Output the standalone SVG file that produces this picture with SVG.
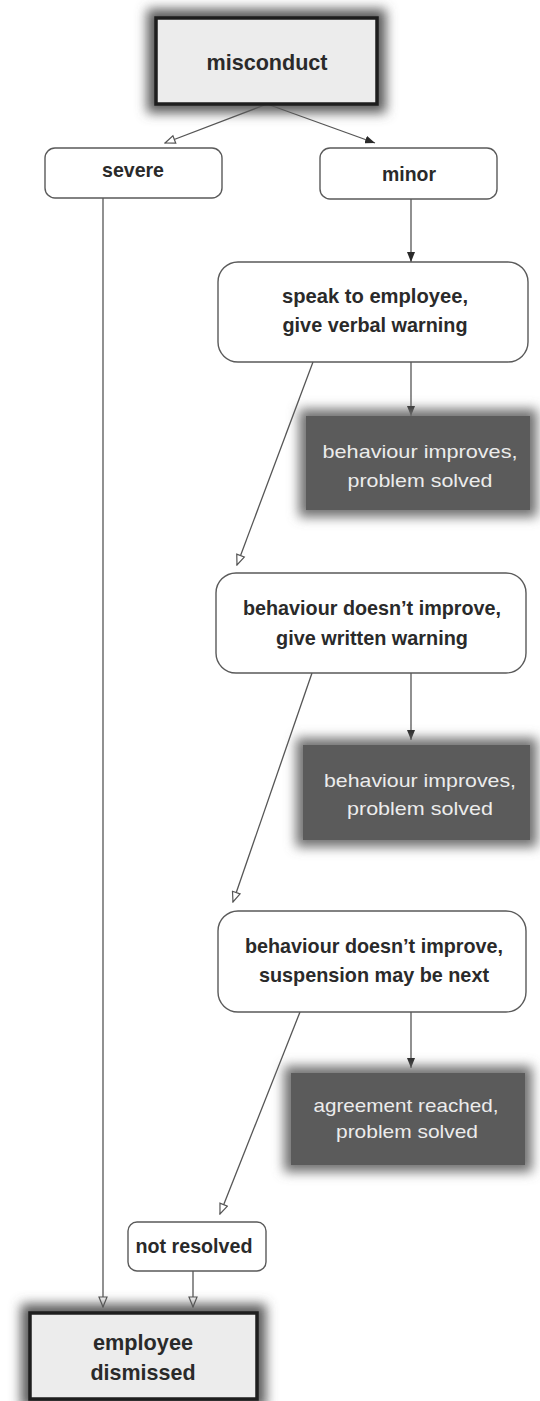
<svg xmlns="http://www.w3.org/2000/svg" width="540" height="1401" viewBox="0 0 540 1401">
<style>
.bg{fill:#ffffff}
.thick{fill:#ececec;stroke:#1e1e1e;stroke-width:3.5}
.halo{fill:#5a5a5a}
.rnd{fill:#ffffff;stroke:#5a5a5a;stroke-width:1.4}
.dk{fill:#5b5b5b}
.dksh{fill:#707070}
.tb{font-family:"Liberation Sans",Arial,sans-serif;font-weight:bold;font-size:21px;fill:#2a2a2a;text-anchor:middle}
.tbig{font-size:22px}
.tw{font-family:"Liberation Sans",Arial,sans-serif;font-size:19px;fill:#ececec;text-anchor:middle}
.ln{fill:none;stroke:#555555;stroke-width:1.3}
</style>
<defs>
<filter id="blur6" x="-25%" y="-40%" width="150%" height="180%">
<feGaussianBlur stdDeviation="6"/>
</filter>
<filter id="soft" x="-20%" y="-30%" width="140%" height="160%">
<feGaussianBlur stdDeviation="6"/>
</filter>
<marker id="af" viewBox="0 0 10 8" refX="10" refY="4" markerWidth="10" markerHeight="8" markerUnits="userSpaceOnUse" orient="auto">
<path d="M0,0 L10,4 L0,8 z" fill="#2a2a2a"/>
</marker>
<marker id="ah" viewBox="-1 -1 12 10" refX="10" refY="4" markerWidth="12" markerHeight="10" markerUnits="userSpaceOnUse" orient="auto">
<path d="M0,0 L10,4 L0,8 z" fill="#ffffff" stroke="#555555" stroke-width="1.2"/>
</marker>
</defs>
<rect class="bg" x="0" y="0" width="540" height="1401"/>

<g id="connectors">
<path class="ln" d="M267,104 L165,143" marker-end="url(#ah)"/>
<path class="ln" d="M267,104 L375,143" marker-end="url(#af)"/>
<path class="ln" d="M411,199 L411,262" marker-end="url(#af)"/>
<path class="ln" d="M411,362 L411,416" marker-end="url(#af)"/>
<path class="ln" d="M313,362 L237,565" marker-end="url(#ah)"/>
<path class="ln" d="M411,673 L411,740" marker-end="url(#af)"/>
<path class="ln" d="M312,673 L233,902" marker-end="url(#ah)"/>
<path class="ln" d="M411,1012 L411,1068" marker-end="url(#af)"/>
<path class="ln" d="M300,1012 L220,1214" marker-end="url(#ah)"/>
<path class="ln" d="M103,198 L103,1307" marker-end="url(#ah)"/>
<path class="ln" d="M193,1271 L193,1307" marker-end="url(#ah)"/>
</g>

<g id="misconduct">
<rect class="halo" x="147" y="9" width="239" height="104" filter="url(#blur6)"/>
<rect class="thick" x="156" y="18" width="221" height="86"/>
<text class="tb tbig" x="267" y="70" textLength="121" lengthAdjust="spacingAndGlyphs">misconduct</text>
</g>

<g id="severe">
<rect class="rnd" x="45" y="148" width="177" height="50" rx="10"/>
<text class="tb" x="133" y="177" textLength="62" lengthAdjust="spacingAndGlyphs">severe</text>
</g>

<g id="minor">
<rect class="rnd" x="320" y="148" width="177" height="51" rx="10"/>
<text class="tb" x="409" y="181" textLength="54" lengthAdjust="spacingAndGlyphs">minor</text>
</g>

<g id="verbal-warning">
<rect class="rnd" x="218" y="262" width="310" height="100" rx="20"/>
<text class="tb" x="375" y="303" textLength="186" lengthAdjust="spacingAndGlyphs">speak to employee,</text>
<text class="tb" x="375" y="332" textLength="185" lengthAdjust="spacingAndGlyphs">give verbal warning</text>
</g>

<g id="solved-1">
<rect class="dksh" x="299" y="409" width="238" height="108" filter="url(#soft)"/>
<rect class="dk" x="306" y="416" width="224" height="94"/>
<text class="tw" x="420" y="458" textLength="195" lengthAdjust="spacingAndGlyphs">behaviour improves,</text>
<text class="tw" x="420" y="487" textLength="145" lengthAdjust="spacingAndGlyphs">problem solved</text>
</g>

<g id="written-warning">
<rect class="rnd" x="216" y="573" width="310" height="100" rx="20"/>
<text class="tb" x="372" y="615" textLength="258" lengthAdjust="spacingAndGlyphs">behaviour doesn’t improve,</text>
<text class="tb" x="372" y="645" textLength="192" lengthAdjust="spacingAndGlyphs">give written warning</text>
</g>

<g id="solved-2">
<rect class="dksh" x="296" y="738" width="241" height="109" filter="url(#soft)"/>
<rect class="dk" x="303" y="745" width="227" height="95"/>
<text class="tw" x="420" y="787" textLength="192" lengthAdjust="spacingAndGlyphs">behaviour improves,</text>
<text class="tw" x="420" y="815" textLength="146" lengthAdjust="spacingAndGlyphs">problem solved</text>
</g>

<g id="suspension">
<rect class="rnd" x="218" y="911" width="308" height="101" rx="20"/>
<text class="tb" x="374" y="953" textLength="258" lengthAdjust="spacingAndGlyphs">behaviour doesn’t improve,</text>
<text class="tb" x="374" y="982" textLength="230" lengthAdjust="spacingAndGlyphs">suspension may be next</text>
</g>

<g id="solved-3">
<rect class="dksh" x="284" y="1066" width="248" height="106" filter="url(#soft)"/>
<rect class="dk" x="291" y="1073" width="234" height="92"/>
<text class="tw" x="406" y="1112" textLength="185" lengthAdjust="spacingAndGlyphs">agreement reached,</text>
<text class="tw" x="407" y="1138" textLength="142" lengthAdjust="spacingAndGlyphs">problem solved</text>
</g>

<g id="not-resolved">
<rect class="rnd" x="128" y="1222" width="138" height="49" rx="9"/>
<text class="tb" x="194" y="1253" textLength="117" lengthAdjust="spacingAndGlyphs">not resolved</text>
</g>

<g id="dismissed">
<rect class="halo" x="21" y="1304" width="245" height="104" filter="url(#blur6)"/>
<rect class="thick" x="30" y="1313" width="227" height="86"/>
<text class="tb tbig" x="143" y="1350" textLength="100" lengthAdjust="spacingAndGlyphs">employee</text>
<text class="tb tbig" x="143" y="1380" textLength="105" lengthAdjust="spacingAndGlyphs">dismissed</text>
</g>
</svg>
